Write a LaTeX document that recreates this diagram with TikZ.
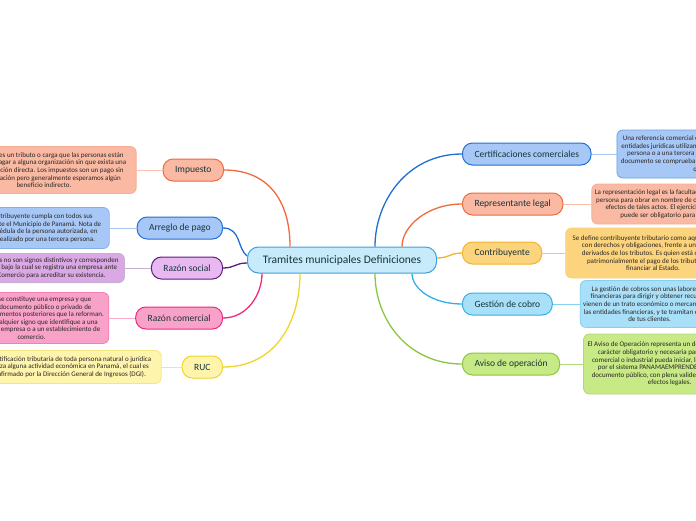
\documentclass[tikz,border=0pt]{standalone}
\usepackage{fontspec}
\setmainfont{Carlito}
\usetikzlibrary{positioning}

\definecolor{ink}{HTML}{17343A}
\definecolor{notetext}{HTML}{2B2622}
\definecolor{rootfill}{HTML}{C8EBFB}
\definecolor{rootline}{HTML}{3E9FDA}
\definecolor{impline}{HTML}{F06A3C}
\definecolor{impfill}{HTML}{F9B9A3}
\definecolor{arrline}{HTML}{1F6FD6}
\definecolor{arrfill}{HTML}{A7C8F6}
\definecolor{rsline}{HTML}{5E1F7C}
\definecolor{rsfill}{HTML}{E8B8F1}
\definecolor{rcline}{HTML}{EE2A7E}
\definecolor{rcfill}{HTML}{F9A2C9}
\definecolor{rucline}{HTML}{F0D52A}
\definecolor{rucfill}{HTML}{FFF4AC}
\definecolor{conline}{HTML}{F5B22A}
\definecolor{confill}{HTML}{FDD47E}
\definecolor{gesline}{HTML}{33AFE9}
\definecolor{gesfill}{HTML}{A9E0F9}
\definecolor{avline}{HTML}{8CC63F}
\definecolor{avfill}{HTML}{C7EA86}

\tikzset{
  topic/.style={draw, line width=1pt, rounded corners=10pt, minimum height=22pt,
    inner xsep=12pt, font=\fontsize{9.5}{11}\selectfont, text=ink},
  note/.style={draw, line width=0.8pt, rounded corners=6pt, align=center,
    inner xsep=5pt, inner ysep=4pt, font=\fontsize{7}{7.6}\selectfont, text=notetext},
  link/.style={line width=1.3pt},
  stub/.style={line width=1pt}
}

\begin{document}
\begin{tikzpicture}[x=1pt, y=-1pt]
    \useasboundingbox (0,0) rectangle (696,520);
    \fill[white] (0,0) rectangle (696,520);
    \clip (0,0) rectangle (696,520);

    % Central topic
    \node[draw=rootline, fill=rootfill, line width=1pt, rounded corners=11pt,
      minimum width=189pt, minimum height=26pt, font=\fontsize{11.5}{13}\selectfont,
      text=ink] (root) at (342,260) {Tramites municipales Definiciones};

    % Left branches
    \node[topic, draw=impline, fill=impfill, anchor=east] (imp) at (224,170) {Impuesto};
    \node[topic, draw=arrline, fill=arrfill, anchor=east] (arr) at (223,228) {Arreglo de pago};
    \node[topic, draw=rsline, fill=rsfill, anchor=east] (rs) at (223,268) {Razón social};
    \node[topic, draw=rcline, fill=rcfill, anchor=east] (rc) at (223,318) {Razón comercial};
    \node[topic, draw=rucline, fill=rucfill, anchor=east] (ruc) at (223,367) {RUC};

    % Right branches
    \node[topic, draw=arrline, fill=arrfill, anchor=west] (cert) at (462,154) {Certificaciones comerciales};
    \node[topic, draw=impline, fill=impfill, anchor=west] (rep) at (462,204) {Representante legal};
    \node[topic, draw=conline, fill=confill, anchor=west] (con) at (462,253) {Contribuyente};
    \node[topic, draw=gesline, fill=gesfill, anchor=west] (ges) at (462,304) {Gestión de cobro};
    \node[topic, draw=avline, fill=avfill, anchor=west] (av) at (462,364) {Aviso de operación};

    % Notes on the left
    \node[note, draw=impline!55, fill=impfill, inner xsep=10pt, minimum height=47pt,
      left=26pt of imp] (impnote) {El impuesto es un tributo o carga que las personas están\\
      obligadas a pagar a alguna organización sin que exista una\\
      contraprestación directa. Los impuestos son un pago sin\\
      contraprestación pero generalmente esperamos algún\\
      beneficio indirecto.};
    \node[note, draw=arrline!55, fill=arrfill, inner xsep=8pt, minimum height=41pt,
      left=27pt of arr] (arrnote) {Es cuando el contribuyente cumpla con todos sus\\
      sus obligaciones ante el Municipio de Panamá. Nota de\\
      autorización con cédula de la persona autorizada, en\\
      caso de que sea realizado por una tercera persona.};
    \node[note, draw=rsline!35, fill=rsfill!90!rsline, inner xsep=6pt, minimum height=29pt,
      left=26pt of rs] (rsnote) {Las razones sociales no son signos distintivos y corresponden\\
      a la denominación bajo la cual se registra una empresa ante\\
      la Cámara de Comercio para acreditar su existencia.};
    \node[note, draw=rcline!60, fill=rcfill, minimum height=51pt,
      left=26pt of rc] (rcnote) {Es la que se constituye una empresa y que\\
      que da el documento público o privado de\\
      así como documentos posteriores que la reforman.\\
      También, cualquier signo que identifique a una\\
      determinada empresa o a un establecimiento de\\
      comercio.};
    \node[note, draw=rucline!60, fill=rucfill, inner xsep=10pt, minimum height=33pt,
      left=20pt of ruc] (rucnote) {Es la identificación tributaria de toda persona natural o jurídica\\
      que realiza alguna actividad económica en Panamá, el cual es\\
      y es confirmado por la Dirección General de Ingresos (DGI).};

    % Notes on the right
    \node[note, draw=arrline!65, fill=arrfill, inner xsep=4pt, minimum height=48pt,
      right=25pt of cert] (certnote) {Una referencia comercial es una carta o un documento que las\\
      entidades jurídicas utilizan para dar una recomendación de una\\
      persona o a una tercera empresa, por lo que mediante este\\
      documento se comprueba la solvencia y la buena reputación de\\
      que se trata.};
    \node[note, draw=impline!55, fill=impfill, inner xsep=3pt, minimum height=40pt,
      right=28pt of rep] (repnote) {La representación legal es la facultad otorgada por la ley a una\\
      persona para obrar en nombre de otra, recayendo en esta los\\
      efectos de tales actos. El ejercicio de la representación\\
      puede ser obligatorio para el representante.};
    \node[note, draw=conline!60, fill=confill, inner xsep=7pt, minimum height=50pt,
      right=23pt of con] (connote) {Se define contribuyente tributario como aquella persona\\
      con derechos y obligaciones, frente a un acreedor,\\
      derivados de los tributos. Es quien está obligado a\\
      patrimonialmente el pago de los tributos, para\\
      financiar al Estado.};
    \node[note, draw=gesline!60, fill=gesfill, inner xsep=3pt, minimum height=47pt,
      right=27pt of ges] (gesnote) {La gestión de cobros son unas labores de\\
      financieras para dirigir y obtener recursos\\
      vienen de un trato económico o mercantil, que\\
      las entidades financieras, y te tramitan el pago\\
      de tus clientes.};
    \node[note, draw=avline!70, fill=avfill, inner xsep=4pt, minimum height=60pt,
      right=23pt of av] (avnote) {El Aviso de Operación representa un documento oficial de\\
      carácter obligatorio y necesaria para que cualquier\\
      comercial o industrial pueda iniciar, la cual es otorgada\\
      por el sistema PANAMAEMPRENDE, constituyendo\\
      documento público, con plena validez jurídica y con los\\
      efectos legales.};

    % Links to the central topic
    \draw[link, impline] (imp.east) .. controls +(45,0) and +(0,-45) .. ([xshift=-52pt]root.north);
    \draw[link, arrline] (arr.east) .. controls +(18,0) and +(-10,-8) .. ([yshift=4pt]root.west);
    \draw[link, rsline] (rs.east) .. controls +(12,0) and +(-12,0) .. ([yshift=-3pt]root.west);
    \draw[link, rcline] (rc.east) .. controls +(25,0) and +(0,20) .. ([xshift=-80pt]root.south);
    \draw[link, rucline] (ruc.east) .. controls +(55,0) and +(0,45) .. ([xshift=-42pt]root.south);
    \draw[link, arrline] (cert.west) .. controls +(-55,0) and +(0,-45) .. ([xshift=33pt]root.north);
    \draw[link, impline] (rep.west) .. controls +(-35,0) and +(0,-20) .. ([xshift=60pt]root.north);
    \draw[link, conline] (con.west) .. controls +(-12,0) and +(12,0) .. ([yshift=2pt]root.east);
    \draw[link, gesline] (ges.west) .. controls +(-30,0) and +(0,15) .. ([xshift=70pt]root.south);
    \draw[link, avline] (av.west) .. controls +(-55,0) and +(0,45) .. ([xshift=33pt]root.south);

    % Stubs to the notes
    \draw[stub, impline!40] (impnote) -- (imp);
    \draw[stub, arrline!40] (arrnote) -- (arr);
    \draw[stub, rsline!35] (rsnote) -- (rs);
    \draw[stub, rcline!40] (rcnote) -- (rc);
    \draw[stub, rucline!60] (rucnote) -- (ruc);
    \draw[stub, arrline!40] (cert) -- (certnote);
    \draw[stub, impline!45] (rep) -- (repnote);
    \draw[stub, conline!70] (con) -- (connote);
    \draw[stub, gesline!60] (ges) -- (gesnote);
    \draw[stub, avline!70] (av) -- (avnote);
\end{tikzpicture}
\end{document}
